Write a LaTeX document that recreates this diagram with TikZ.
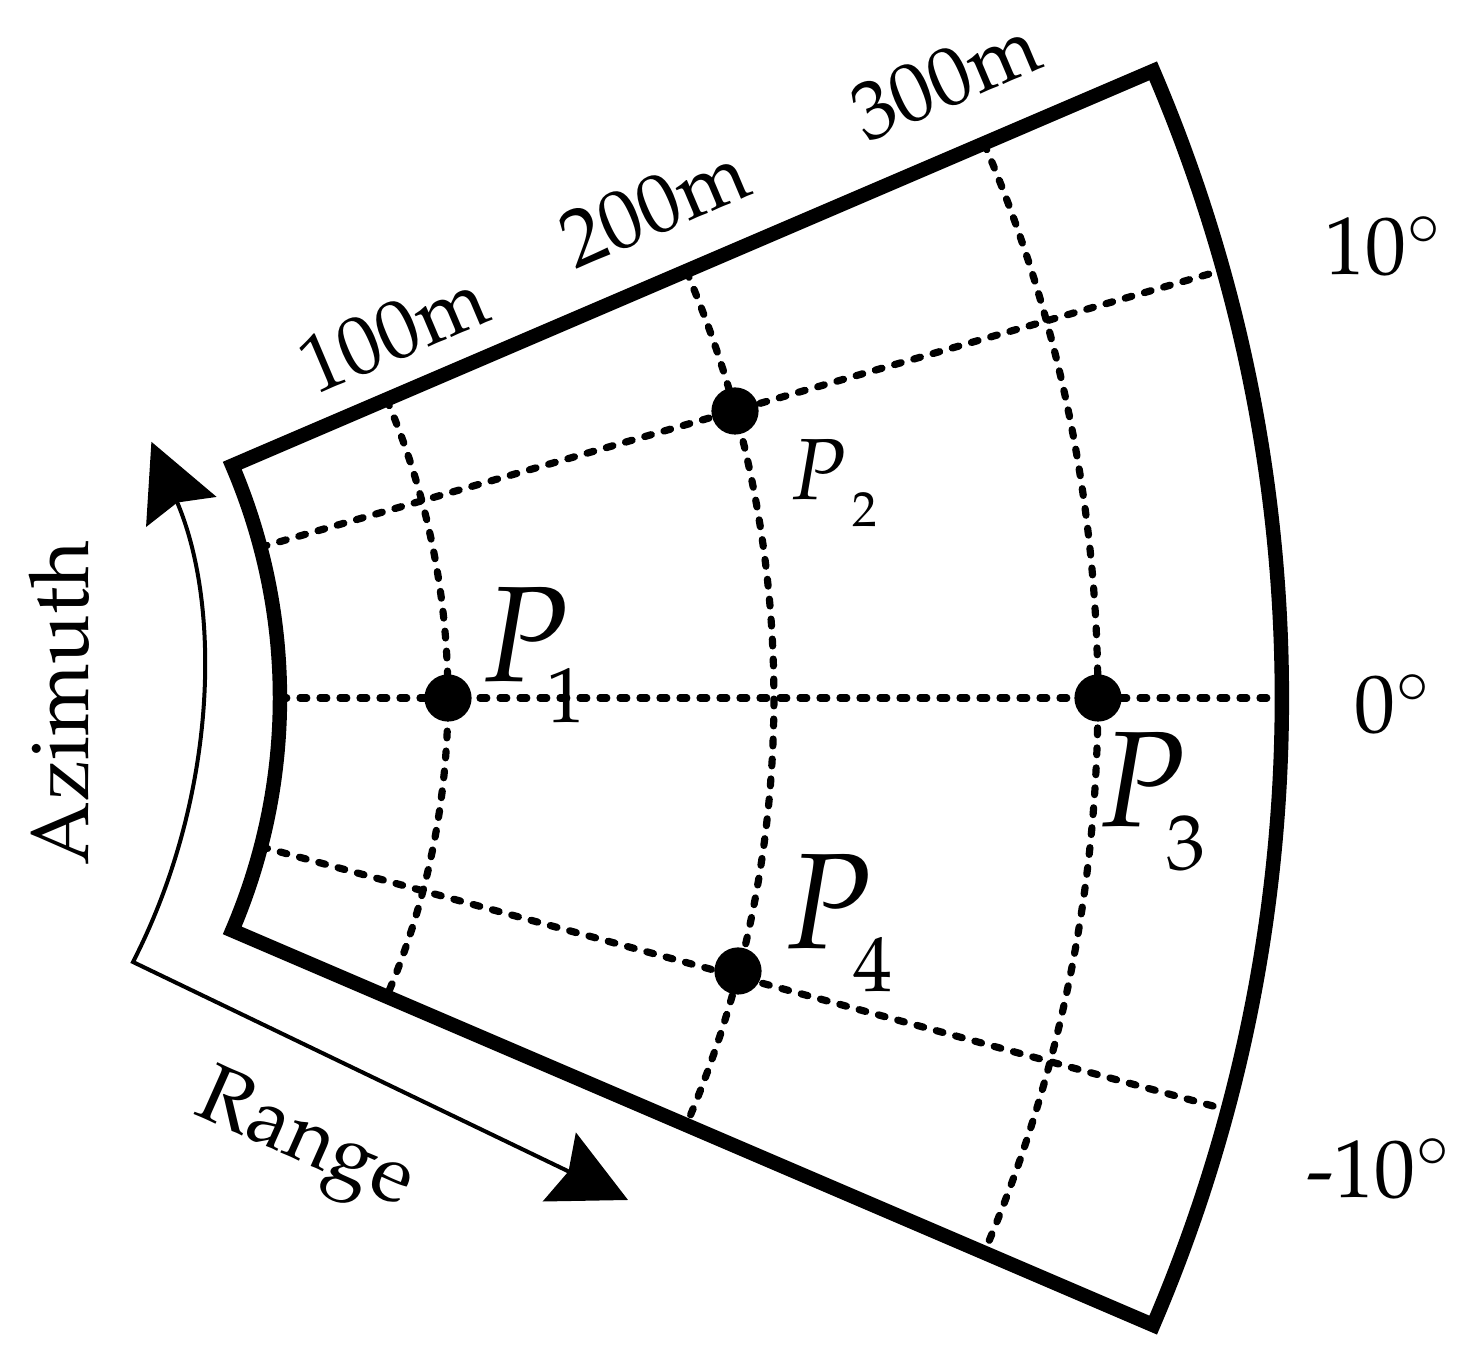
\documentclass[tikz,border=0pt]{standalone}
\usepackage[T1]{fontenc}
\usepackage{mathpazo}
\usetikzlibrary{arrows.meta,calc}

\tikzset{
  border/.style={line width=3.6pt},
  gridline/.style={line width=1.8pt, line cap=round, dash pattern=on 1.7pt off 3.3pt},
  dot/.style={circle, fill, inner sep=0pt, minimum size=11.8pt},
  tick/.style={font=\fontsize{20.5}{24}\selectfont, inner sep=0pt, anchor=base},
  pbig/.style={font=\fontsize{34}{36}\selectfont, inner sep=0pt, anchor=base},
  psubbig/.style={font=\fontsize{19.5}{22}\selectfont, inner sep=0pt, anchor=base},
  psmall/.style={font=\fontsize{21.7}{24}\selectfont, inner sep=0pt, anchor=base},
  psubsmall/.style={font=\fontsize{12.3}{14}\selectfont, inner sep=0pt, anchor=base},
  sweep/.style={line width=1pt, {Stealth[length=19pt,width=19pt,inset=2.5pt]}-{Stealth[length=19pt,width=19pt,inset=2.5pt]}},
}

\begin{document}
\begin{tikzpicture}[x=0.25pt,y=0.25pt]
                \useasboundingbox (0,0) rectangle (1468,-1367);
                \coordinate (O) at (-310,-698);
                % sector
                \draw [border] ($(O)+(23.2:590)$) -- ($(O)+(23.2:1592)$) arc[start angle=23.2,end angle=-23.2,radius=1592] -- ($(O)+(-23.2:590)$) arc[start angle=-23.2,end angle=23.2,radius=590] -- cycle;
                % range rings and azimuth lines
                \foreach \r in {758,1084,1408}
                    \draw [gridline] ($(O)+(23.2:\r)$) arc[start angle=23.2,end angle=-23.2,radius=\r];
                \draw [gridline] ($(O)+(14.8:590)$) -- ($(O)+(15.6:1592)$);
                \draw [gridline] ($(O)+(0:590)$) -- ($(O)+(0:1592)$);
                \draw [gridline] ($(O)+(-14.6:590)$) -- ($(O)+(-15.0:1592)$);
                % points
                \node [dot] (P1) at (448,-698) {};
                \node [dot] (P2) at (735,-411) {};
                \node [dot] (P3) at (1098,-698) {};
                \node [dot] (P4) at (738,-971) {};
                \node [pbig] (lP1) at (525,-682) {$P$};
                \node [psubbig] (sP1) at (566,-723) {1};
                \node [psmall] (lP2) at (818,-500) {$P$};
                \node [psubsmall] (sP2) at (865,-527) {2};
                \node [pbig] (lP3) at (1142,-827) {$P$};
                \node [psubbig] (sP3) at (1186,-870) {3};
                \node [pbig] (lP4) at (828,-949) {$P$};
                \node [psubbig] (sP4) at (873,-992) {4};
                % range and azimuth ticks
                \node [tick,rotate=23] (r100) at (404,-357) {100m};
                \node [tick,rotate=23] (r200) at (665,-231) {200m};
                \node [tick,rotate=23] (r300) at (956,-104) {300m};
                \node [tick] (a10) at (1384,-275) {10$^\circ$};
                \node [tick] (a0) at (1393,-733) {0$^\circ$};
                \node [tick] (am10) at (1379,-1197) {-10$^\circ$};
                % sweep arrows
                \coordinate (corner) at (133,-962);
                \coordinate (rangetip) at (628,-1200);
                \draw [sweep] (rangetip) -- (corner) arc[start angle=-27.15,end angle=23.1,radius=613];
                \node [tick,rotate=90] (azimuth) at (88,-703) {Azimuth};
                \node [tick,rotate=-24] (range) at (297,-1160) {Range};
            \end{tikzpicture}
\end{document}
